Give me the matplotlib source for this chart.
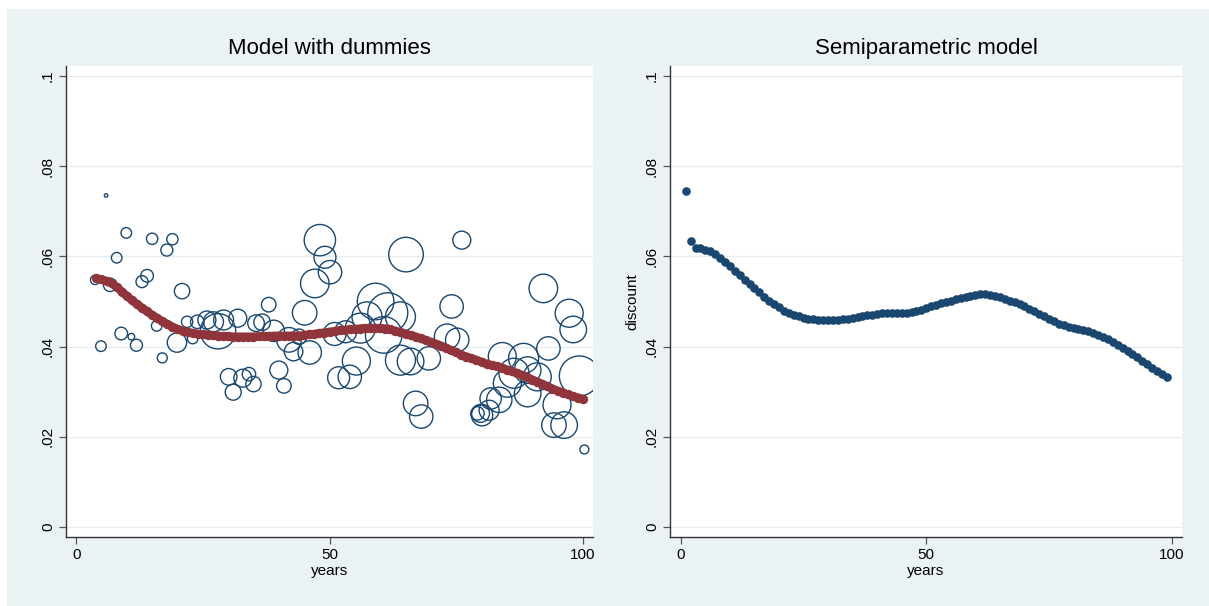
import numpy as np
import matplotlib
matplotlib.use("Agg")
import matplotlib.pyplot as plt
from matplotlib.patches import Rectangle

plt.rcParams["font.family"] = ["Liberation Sans", "DejaVu Sans"]

NAVY = "#1A476F"
MAROON = "#90353B"
BG = "#EAF2F3"
GRID = "#E6EEF0"

# --- left panel: year-dummy estimates (bubbles weighted) and smoothed fit ---
dummy_years = [3.75, 4.9, 5.9, 6.7, 8.0, 8.9, 9.9, 10.9, 11.9, 13.0,
               14.0, 15.0, 15.9, 17.0, 17.9, 19.0, 19.9, 20.9, 21.9, 23.0,
               23.9, 25.8, 27.1, 28.0, 29.1, 30.1, 31.0, 31.9, 32.9, 34.1,
               35.0, 35.5, 36.7, 38.0, 39.0, 40.0, 41.0, 42.0, 42.9, 44.0,
               45.1, 46.1, 47.1, 48.1, 49.1, 50.1, 51.0, 51.8, 53.2, 54.0,
               55.3, 56.1, 57.4, 59.1, 60.7, 61.5, 64.0, 64.0, 65.1, 66.0,
               67.0, 68.1, 69.6, 73.2, 74.1, 75.2, 76.1, 79.2, 79.8, 80.1,
               81.5, 81.8, 83.5, 84.1, 85.1, 86.4, 88.3, 89.1, 89.1, 91.0,
               92.2, 93.2, 94.3, 94.9, 96.3, 97.3, 98.1, 99.3, 100.3]
dummy_coef = [.0548, .0401, .0735, .0537, .0597, .0429, .0652, .0422, .0403, .0544,
              .0557, .0639, .0446, .0375, .0614, .0638, .0409, .0523, .0455, .0418,
              .0455, .0459, .0455, .0434, .0459, .0333, .0299, .0463, .0330, .0339,
              .0317, .0452, .0454, .0493, .0435, .0348, .0313, .0415, .0389, .0422,
              .0475, .0387, .0540, .0636, .0598, .0565, .0428, .0331, .0433, .0333,
              .0368, .0441, .0466, .0500, .0426, .0475, .0466, .0370, .0604, .0367,
              .0274, .0245, .0374, .0422, .0489, .0415, .0636, .0252, .0252, .0248,
              .0259, .0285, .0282, .0378, .0319, .0341, .0374, .0348, .0296, .0333,
              .0529, .0396, .0226, .0271, .0226, .0474, .0438, .0335, .0172]
dummy_weight = [22, 28, 3, 45, 28, 40, 28, 11, 36, 36,
                40, 32, 28, 25, 36, 32, 94, 59, 32, 28,
                45, 81, 100, 313, 100, 69, 64, 81, 81, 45,
                59, 69, 69, 53, 114, 81, 53, 151, 86, 59,
                151, 137, 204, 246, 121, 137, 132, 121, 121, 137,
                196, 225, 225, 335, 335, 400, 225, 225, 299, 177,
                151, 137, 137, 161, 137, 137, 81, 45, 81, 114,
                100, 114, 161, 196, 196, 225, 225, 177, 177, 196,
                204, 137, 151, 196, 177, 196, 177, 400, 20]

fit_years = list(range(4, 101))
fit_discount = [.0551, .0549, .0545, .0540, .0532, .0522, .0512, .0503, .0494, .0486,
                .0478, .0470, .0463, .0456, .0450, .0444, .0439, .0435, .0432, .0430,
                .0428, .0427, .0426, .0425, .0424, .0423, .0423, .0422, .0422, .0422,
                .0422, .0422, .0423, .0423, .0423, .0424, .0424, .0424, .0424, .0424,
                .0424, .0425, .0427, .0428, .0430, .0431, .0433, .0434, .0436, .0437,
                .0438, .0439, .0440, .0441, .0441, .0441, .0441, .0440, .0438, .0435,
                .0432, .0429, .0425, .0422, .0418, .0414, .0410, .0406, .0402, .0397,
                .0392, .0387, .0382, .0378, .0374, .0370, .0366, .0362, .0359, .0356,
                .0353, .0349, .0345, .0341, .0337, .0332, .0327, .0322, .0317, .0312,
                .0307, .0302, .0298, .0294, .0290, .0287, .0284]

# --- right panel: semiparametric discount function ---
semi_years = list(range(1, 100))
semi_discount = [.0745, .0635, .0619, .0618, .0615, .0611, .0605, .0597, .0587, .0578,
                 .0568, .0558, .0548, .0539, .0530, .0520, .0511, .0502, .0494, .0487,
                 .0480, .0475, .0470, .0467, .0464, .0462, .0461, .0460, .0459, .0459,
                 .0459, .0460, .0461, .0462, .0463, .0465, .0467, .0469, .0471, .0473,
                 .0474, .0475, .0475, .0475, .0475, .0475, .0476, .0478, .0481, .0485,
                 .0489, .0493, .0496, .0499, .0502, .0505, .0508, .0511, .0513, .0515,
                 .0516, .0516, .0515, .0513, .0510, .0506, .0502, .0498, .0494, .0489,
                 .0484, .0479, .0473, .0467, .0461, .0456, .0451, .0447, .0444, .0441,
                 .0439, .0437, .0434, .0431, .0426, .0421, .0416, .0410, .0404, .0397,
                 .0390, .0383, .0376, .0368, .0361, .0353, .0346, .0339, .0333]

y_ticks = [0, .02, .04, .06, .08, .1]
y_ticklabels = ["0", ".02", ".04", ".06", ".08", ".1"]
x_ticks = [0, 50, 100]


def style_axis(ax, title, xlim):
    ax.set_xlim(*xlim)
    ax.set_ylim(-0.0022, 0.1022)
    ax.set_yticks(y_ticks)
    ax.set_yticklabels(y_ticklabels, rotation=90, va="center")
    ax.set_xticks(x_ticks)
    ax.set_xlabel("years", fontsize=11, labelpad=1)
    for s in ("top", "right"):
        ax.spines[s].set_visible(False)
    for s in ("left", "bottom"):
        ax.spines[s].set_color("#333333")
        ax.spines[s].set_linewidth(1.0)
    ax.tick_params(axis="both", labelsize=11, length=5, width=0.9,
                   color="#555555", pad=3)
    ax.grid(axis="y", color=GRID, linewidth=1.0)
    ax.set_axisbelow(True)
    ax.text(0.5, 1.038, title, transform=ax.transAxes, ha="center",
            va="center", fontsize=16)


fig = plt.figure(figsize=(12.09, 6.06), dpi=100, facecolor="white")
fig.patches.append(Rectangle((7 / 1209, 0), 1, 597 / 606,
                             transform=fig.transFigure, facecolor=BG,
                             edgecolor="none", zorder=-10))

ax1 = fig.add_axes([66 / 1209, 69 / 606, 527 / 1209, 471 / 606])
ax2 = fig.add_axes([670 / 1209, 69 / 606, 512 / 1209, 471 / 606])

ax1.scatter(dummy_years, dummy_coef, s=np.array(dummy_weight) * 2.07,
            facecolors="none", edgecolors=NAVY, linewidths=1.0, zorder=2)
ax1.plot(fit_years, fit_discount, "-", color=MAROON, linewidth=6.0,
         solid_capstyle="round", zorder=3)
ax1.plot(fit_years, fit_discount, "o", color=MAROON, markersize=6.8,
         markeredgewidth=0, zorder=3)
style_axis(ax1, "Model with dummies", (-2.0, 102.0))

ax2.plot(semi_years, semi_discount, "o", color=NAVY, markersize=6.2,
         markeredgewidth=0, zorder=3)
style_axis(ax2, "Semiparametric model", (-2.2, 102.1))
ax2.set_ylabel("discount", fontsize=11, labelpad=4)

fig.savefig("out.png", dpi=100, facecolor=fig.get_facecolor())
